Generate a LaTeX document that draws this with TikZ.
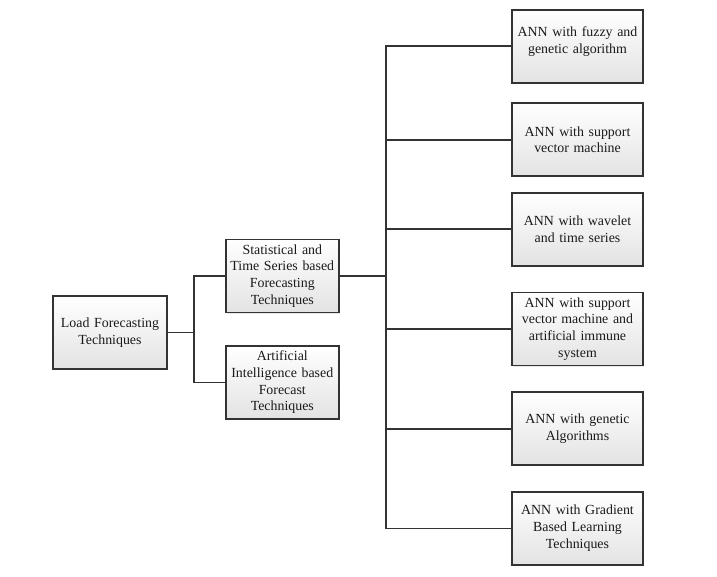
\documentclass[tikz,border=0pt]{standalone}
\usepackage{fontspec}
\setmainfont{Liberation Serif}
\usetikzlibrary{shadows}
\definecolor{boxline}{HTML}{333333}
\definecolor{txt}{HTML}{1A1A1A}
\begin{document}
\begin{tikzpicture}[x=1pt,y=-1pt,
  box/.style={draw=boxline, line width=1.6pt, top color=white, bottom color=black!11,
    drop shadow={opacity=0.18, shadow xshift=1.2pt, shadow yshift=-1.2pt},
    minimum height=73pt, align=center, inner sep=2pt, text=txt,
    font=\fontsize{13.9}{16.7}\selectfont},
  leftbox/.style={box, minimum width=113pt, text width=109pt},
  rightbox/.style={box, minimum width=130.5pt, text width=126pt},
  conn/.style={draw=boxline, line width=1.6pt}]
\useasboundingbox (0,0) rectangle (717,576);
\node[box, minimum width=114pt, text width=110pt] (L) at (110,332.5) {Load Forecasting\\Techniques};
\node[leftbox] (S) at (282.3,275.8) {Statistical and\\Time Series based\\Forecasting\\Techniques};
\node[leftbox] (A) at (282.3,382.3) {Artificial\\Intelligence based\\Forecast\\Techniques};
\node[rightbox] (R1) at (577.5,46.2) {ANN with fuzzy and\\genetic algorithm\\[-4pt]\mbox{}};
\node[rightbox] (R2) at (577.5,139.7) {ANN with support\\vector machine};
\node[rightbox] (R3) at (577.5,229.2) {ANN with wavelet\\and time series};
\node[rightbox] (R4) at (577.5,329.0) {ANN with support\\vector machine and\\artificial immune\\system};
\node[rightbox] (R5) at (577.5,428.7) {ANN with genetic\\Algorithms};
\node[rightbox] (R6) at (577.5,528.3) {ANN with Gradient\\Based Learning\\Techniques};
\coordinate (j1) at (194,332.5);
\coordinate (j2) at (386,275.8);
\draw[conn] (L.east) -- (j1);
\draw[conn] (S.west) -| (j1) |- (A.west);
\draw[conn] (S.east) -- (j2);
\draw[conn] (R1.west) -| (j2) |- (R6.west);
\draw[conn] (R2.west) -- (R2.west -| j2);
\draw[conn] (R3.west) -- (R3.west -| j2);
\draw[conn] (R4.west) -- (R4.west -| j2);
\draw[conn] (R5.west) -- (R5.west -| j2);
\end{tikzpicture}
\end{document}
